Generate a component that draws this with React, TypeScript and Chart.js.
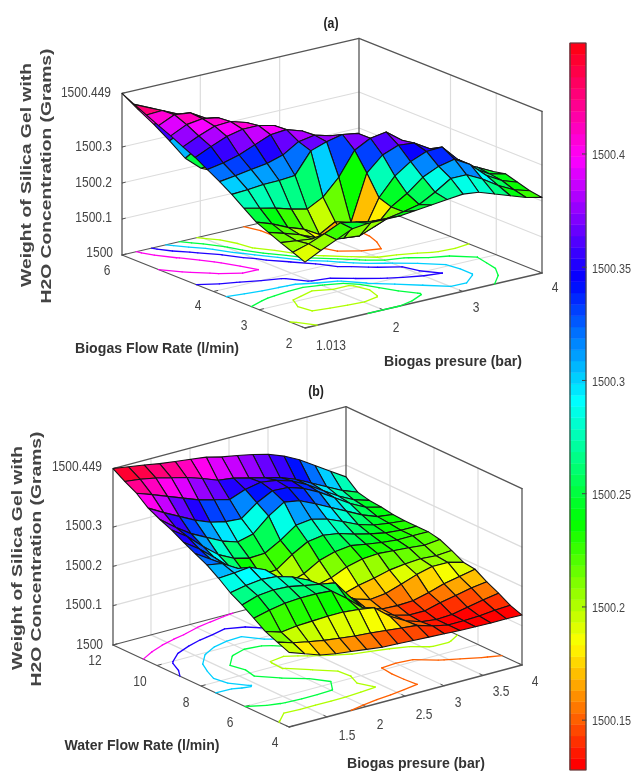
import React, { useEffect, useRef } from "react";
import { Chart, registerables } from "chart.js";

Chart.register(...registerables);

// ---------- data ----------
const WEIGHT_BASE = 1500;
const COLOR_MIN = 0.128;
const COLOR_MAX = 0.449;
const CONTOUR_LEVELS = [0.15, 0.2, 0.25, 0.3, 0.35, 0.4];
const COLORBAR_TICKS = [1500.15, 1500.2, 1500.25, 1500.3, 1500.35, 1500.4];
const Z_TICKS = [0, 0.1, 0.2, 0.3, 0.449];
const PRESSURE_TICKS_A = [1.013, 2, 3, 4];
const FLOW_TICKS_A = [2, 3, 4, 6];
const PRESSURE_TICKS_B = [1.013, 1.5, 2, 2.5, 3, 3.5, 4];
const FLOW_TICKS_B = [4, 6, 8, 10, 12];

// weight above 1500 g, in milligrams. rows: flow from highest to lowest; columns: pressure from lowest to highest
const surfaceA = [
  [449,395,343,287,228,190,170,155,148,140,136,140,150,160,170,180],
  [432,412,368,325,270,215,180,162,150,142,136,140,150,160,171,181],
  [416,418,398,362,315,245,188,166,150,141,135,140,150,162,173,183],
  [400,420,415,390,352,275,195,170,150,140,135,140,150,165,175,185],
  [385,406,412,405,378,330,235,175,152,141,136,141,151,165,176,185],
  [368,388,405,408,395,368,300,205,160,145,137,142,152,165,175,185],
  [352,372,390,400,400,390,355,265,185,150,140,145,155,165,175,185],
  [332,340,352,370,388,392,378,345,270,190,155,150,158,170,180,190],
  [312,318,325,332,345,372,380,368,330,265,200,180,180,185,190,195],
  [290,293,297,298,302,360,375,385,378,335,285,260,210,195,195,200],
  [265,255,245,232,222,245,290,355,378,385,352,300,280,250,225,220],
  [240,225,205,190,165,190,178,305,345,362,358,332,300,270,250,228],
  [225,212,198,180,165,160,165,250,300,330,348,350,305,270,245,235],
  [210,205,200,190,182,178,195,238,265,300,320,330,305,265,240,225],
  [197,210,228,248,240,232,230,238,248,272,300,300,278,250,228,215],
  [183,205,225,245,250,250,250,255,260,265,270,265,250,235,220,210],
];
const surfaceB = [
  [449,443,437,430,425,420,415,405,398,390,380,365,345,320,295,270],
  [430,425,418,408,398,385,370,365,355,345,335,320,300,280,260,245],
  [414,400,385,370,355,345,335,350,358,352,340,320,295,270,250,238],
  [390,368,348,328,312,303,300,330,350,348,335,315,290,265,245,235],
  [375,345,318,298,278,265,275,310,335,328,310,290,270,250,235,230],
  [362,335,300,268,248,238,240,262,290,295,285,268,250,238,232,228],
  [345,318,285,250,222,208,212,240,262,268,262,250,240,232,228,228],
  [330,305,278,258,225,198,192,205,228,240,245,238,232,228,228,228],
  [315,308,285,252,215,198,190,188,198,215,225,228,225,222,218,222],
  [295,298,302,285,248,225,198,178,170,182,190,200,205,208,205,208],
  [272,280,285,282,270,252,225,198,172,160,165,178,192,202,202,192],
  [255,268,272,270,262,255,248,200,162,150,148,150,160,172,180,188],
  [235,245,252,255,255,252,222,188,165,148,138,138,148,156,165,170],
  [215,203,208,210,212,212,208,202,170,148,135,130,132,140,148,155],
  [202,190,182,175,170,165,162,158,154,150,138,130,130,132,136,138],
  [190,176,162,155,150,145,140,138,136,134,132,130,129,128,128,127],
];

// ---------- layout ----------
const W = 633;
const H = 775;
const panelA = {
  L: { x: 122, y: 255 }, eu: { x: 237, y: -55 }, ev: { x: 183, y: 73 }, zs: 360,
  grid: surfaceA, pRange: [1.013, 4], fRange: [6, 2], pTicks: PRESSURE_TICKS_A, fTicks: FLOW_TICKS_A,
};
const panelB = {
  L: { x: 113, y: 645 }, eu: { x: 233, y: -62 }, ev: { x: 176, y: 82 }, zs: 393,
  grid: surfaceB, pRange: [1.013, 4], fRange: [12, 4], pTicks: PRESSURE_TICKS_B, fTicks: FLOW_TICKS_B,
};
const BAR = { x0: 570, x1: 586, y0: 770, y1: 43 };

function proj(p: any, u: number, v: number, z: number) {
  return { x: p.L.x + p.eu.x * u + p.ev.x * v, y: p.L.y + p.eu.y * u + p.ev.y * v - p.zs * z };
}
function hsv(z: number) {
  const t = (z - COLOR_MIN) / (COLOR_MAX - COLOR_MIN);
  const idx = Math.max(0, Math.min(63, Math.floor(t * 64)));
  return `hsl(${(idx / 64) * 360}, 100%, 50%)`;
}
function lineDs(data: any[], color: string, width: number) {
  return { type: "line", data, borderColor: color, borderWidth: width, pointRadius: 0, fill: false, tension: 0, clip: false, borderCapStyle: "round", borderJoinStyle: "round" };
}
function polyDs(data: any[], fillColor: string, stroke: string, width: number) {
  return { type: "line", data: [...data, data[0]], backgroundColor: fillColor, borderColor: stroke, borderWidth: width, pointRadius: 0, fill: "shape", tension: 0, clip: false, borderJoinStyle: "round" };
}

function contourSegments(p: any, level: number) {
  const g = p.grid;
  const n = g.length - 1;
  const out: any[] = [];
  for (let j = 0; j < n; j++) {
    for (let i = 0; i < n; i++) {
      const c = [
        { i, j, z: g[j][i] / 1000 }, { i: i + 1, j, z: g[j][i + 1] / 1000 },
        { i: i + 1, j: j + 1, z: g[j + 1][i + 1] / 1000 }, { i, j: j + 1, z: g[j + 1][i] / 1000 },
      ];
      const cross: any[] = [];
      for (let k = 0; k < 4; k++) {
        const a = c[k], b = c[(k + 1) % 4];
        if (a.z >= level !== b.z >= level) {
          const t = (level - a.z) / (b.z - a.z);
          cross.push(proj(p, (a.i + (b.i - a.i) * t) / n, (a.j + (b.j - a.j) * t) / n, 0));
        }
      }
      for (let k = 0; k + 1 < cross.length; k += 2) out.push([cross[k], cross[k + 1]]);
    }
  }
  return out;
}

function panelBack(p: any) {
  const ds: any[] = [];
  const U = (pr: number) => (pr - p.pRange[0]) / (p.pRange[1] - p.pRange[0]);
  const V = (f: number) => (f - p.fRange[0]) / (p.fRange[1] - p.fRange[0]);
  const light = "#dcdcdc", dark = "#555555";
  const top = 0.449;
  for (const z of Z_TICKS.slice(1, 4)) ds.push(lineDs([proj(p, 0, 0, z), proj(p, 1, 0, z), proj(p, 1, 1, z)], light, 1.2));
  for (const pr of p.pTicks.slice(1, -1)) {
    ds.push(lineDs([proj(p, U(pr), 0, 0), proj(p, U(pr), 0, top)], light, 1.2));
    ds.push(lineDs([proj(p, U(pr), 0, 0), proj(p, U(pr), 1, 0)], light, 1.2));
  }
  for (const f of p.fTicks.slice(1, -1)) {
    ds.push(lineDs([proj(p, 1, V(f), 0), proj(p, 1, V(f), top)], light, 1.2));
    ds.push(lineDs([proj(p, 0, V(f), 0), proj(p, 1, V(f), 0)], light, 1.2));
  }
  for (const [u, v] of [[0, 0], [1, 0], [1, 1]]) ds.push(lineDs([proj(p, u, v, 0), proj(p, u, v, top)], dark, 1.3));
  ds.push(lineDs([proj(p, 0, 0, top), proj(p, 1, 0, top), proj(p, 1, 1, top)], dark, 1.3));
  ds.push(lineDs([proj(p, 0, 0, 0), proj(p, 1, 0, 0), proj(p, 1, 1, 0)], dark, 1.2));
  ds.push(lineDs([proj(p, 0, 0, 0), proj(p, 0, 1, 0), proj(p, 1, 1, 0)], dark, 1.3));
  for (const z of Z_TICKS) ds.push(lineDs([proj(p, 0, 0, z), proj(p, 0.014, 0, z)], dark, 1));
  for (const f of p.fTicks) ds.push(lineDs([proj(p, 0, V(f), 0), proj(p, 0.018, V(f), 0)], dark, 1));
  for (const pr of p.pTicks) ds.push(lineDs([proj(p, U(pr), 1, 0), proj(p, U(pr), 0.982, 0)], dark, 1));
  for (const level of CONTOUR_LEVELS) for (const seg of contourSegments(p, level)) ds.push(lineDs(seg, hsv(level), 1.3));
  return ds;
}

function panelSurface(p: any) {
  const ds: any[] = [];
  const g = p.grid;
  const n = g.length - 1;
  for (let i = n - 1; i >= 0; i--) {
    for (let j = 0; j < n; j++) {
      const at = (a: number, b: number) => proj(p, a / n, b / n, g[b][a] / 1000);
      ds.push(polyDs([at(i, j), at(i + 1, j), at(i + 1, j + 1), at(i, j + 1)], hsv((g[j][i] + g[j + 1][i]) / 2000), "#141414", 1.1));
    }
  }
  return ds;
}

function colorbar() {
  const ds: any[] = [];
  const yOf = (z: number) => BAR.y0 + ((z - COLOR_MIN) / (COLOR_MAX - COLOR_MIN)) * (BAR.y1 - BAR.y0);
  for (let k = 0; k < 64; k++) {
    const z0 = COLOR_MIN + (k / 64) * (COLOR_MAX - COLOR_MIN);
    const z1 = COLOR_MIN + ((k + 1) / 64) * (COLOR_MAX - COLOR_MIN);
    const c = hsv((z0 + z1) / 2);
    ds.push(polyDs([{ x: BAR.x0, y: yOf(z0) }, { x: BAR.x1, y: yOf(z0) }, { x: BAR.x1, y: yOf(z1) }, { x: BAR.x0, y: yOf(z1) }], c, c, 0.5));
  }
  for (const t of COLORBAR_TICKS) {
    const y = yOf(t - WEIGHT_BASE);
    ds.push(lineDs([{ x: BAR.x1 - 4, y }, { x: BAR.x1, y }], "#444", 1));
  }
  ds.push(lineDs([{ x: BAR.x0, y: BAR.y0 }, { x: BAR.x1, y: BAR.y0 }, { x: BAR.x1, y: BAR.y1 }, { x: BAR.x0, y: BAR.y1 }, { x: BAR.x0, y: BAR.y0 }], "#444", 1.2));
  return ds;
}

// ---------- text ----------
type T = { s: string; x: number; y: number; size: number; bold?: boolean; align?: CanvasTextAlign; sx?: number; w?: number; rot?: boolean; color?: string };
const FONT = '"Liberation Sans", Arial, sans-serif';
const tick = (s: string, x: number, y: number, align: CanvasTextAlign = "center"): T => ({ s, x, y, size: 15, sx: 0.8, align, color: "#444" });
const YL1 = "Weight of Silica Gel with";
const YL2 = "H2O Concentration (Grams)";
const texts: T[] = [
  { s: "(a)", x: 331, y: 24, size: 15, bold: true, sx: 0.82, color: "#222" },
  { s: "(b)", x: 316, y: 392, size: 15, bold: true, sx: 0.82, color: "#222" },
  { s: YL1, x: 27, y: 175, size: 14, bold: true, w: 224, rot: true, color: "#444" },
  { s: YL2, x: 47, y: 176, size: 14, bold: true, w: 255, rot: true, color: "#444" },
  { s: YL1, x: 18, y: 558, size: 14, bold: true, w: 224, rot: true, color: "#444" },
  { s: YL2, x: 37, y: 559, size: 14, bold: true, w: 255, rot: true, color: "#444" },
  { s: "Biogas Flow Rate (l/min)", x: 157, y: 349, size: 15.5, bold: true, w: 164, color: "#333" },
  { s: "Biogas presure (bar)", x: 453, y: 362, size: 15.5, bold: true, w: 138, color: "#333" },
  { s: "Water Flow Rate (l/min)", x: 142, y: 746, size: 15.5, bold: true, w: 155, color: "#333" },
  { s: "Biogas presure (bar)", x: 416, y: 764, size: 15.5, bold: true, w: 138, color: "#333" },
  tick("1500.449", 111, 93, "right"), tick("1500.3", 112, 147, "right"), tick("1500.2", 112, 183, "right"), tick("1500.1", 112, 218, "right"), tick("1500", 113, 253, "right"),
  tick("6", 107, 271), tick("4", 198, 306), tick("3", 244, 326), tick("2", 289, 344),
  tick("1.013", 331, 346), tick("2", 396, 328), tick("3", 476, 308), tick("4", 555, 288),
  tick("1500.449", 102, 467, "right"), tick("1500.3", 102, 526, "right"), tick("1500.2", 102, 566, "right"), tick("1500.1", 102, 605, "right"), tick("1500", 103, 645, "right"),
  tick("12", 95, 661), tick("10", 140, 682), tick("8", 186, 703), tick("6", 230, 723), tick("4", 275, 743),
  tick("1.5", 347, 736), tick("2", 380, 725), tick("2.5", 424, 715), tick("3", 458, 703), tick("3.5", 501, 692), tick("4", 535, 682),
  ...COLORBAR_TICKS.map((t): T => ({
    s: String(t), x: 592,
    y: BAR.y0 + ((t - WEIGHT_BASE - COLOR_MIN) / (COLOR_MAX - COLOR_MIN)) * (BAR.y1 - BAR.y0) + 2,
    size: 12, sx: 0.9, align: "left", color: "#444",
  })),
];

const textPlugin = {
  id: "labels",
  afterDatasetsDraw(chart: any) {
    const ctx = chart.ctx;
    const xs = chart.scales.x, ys = chart.scales.y;
    for (const t of texts) {
      ctx.save();
      ctx.font = `${t.bold ? "bold " : ""}${t.size}px ${FONT}`;
      ctx.fillStyle = t.color || "#333";
      ctx.textBaseline = "middle";
      ctx.textAlign = t.align || "center";
      ctx.translate(xs.getPixelForValue(t.x), ys.getPixelForValue(t.y));
      if (t.rot) ctx.rotate(-Math.PI / 2);
      const k = t.w ? t.w / ctx.measureText(t.s).width : t.sx || 1;
      ctx.scale(k, 1);
      ctx.fillText(t.s, 0, 0);
      ctx.restore();
    }
  },
};

export default function App() {
  const ref = useRef<HTMLCanvasElement>(null);
  useEffect(() => {
    const paint = [
      ...panelBack(panelA), ...panelSurface(panelA),
      ...panelBack(panelB), ...panelSurface(panelB),
      ...colorbar(),
    ];
    const chart = new Chart(ref.current as any, {
      type: "scatter",
      data: { datasets: paint.reverse() as any },
      plugins: [textPlugin as any],
      options: {
        responsive: false,
        animation: false,
        layout: { padding: 0 },
        plugins: { legend: { display: false }, tooltip: { enabled: false }, title: { display: false } },
        scales: {
          x: { type: "linear", min: 0, max: W, display: false },
          y: { type: "linear", min: 0, max: H, reverse: true, display: false },
        },
      },
    } as any);
    return () => chart.destroy();
  }, []);
  return (
    <canvas
      ref={ref}
      width={W}
      height={H}
      style={{ position: "absolute", left: 0, top: 0, width: W, height: H, filter: "blur(0.45px)", background: "#fff" }}
    />
  );
}
